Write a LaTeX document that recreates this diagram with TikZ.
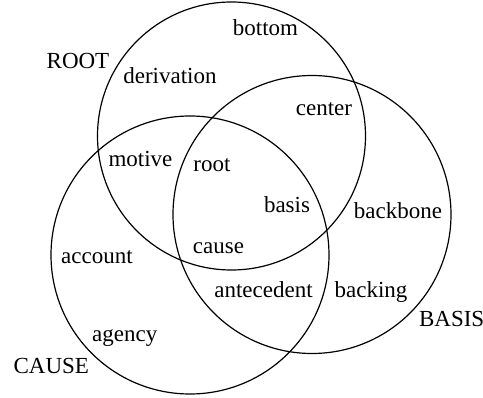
\documentclass[tikz,border=0pt]{standalone}
\usepackage{fontspec}
\setmainfont{Liberation Serif}
\begin{document}
\begin{tikzpicture}[x=1pt,y=-1pt,
  setc/.style={circle,draw,line width=1.2pt,minimum size=#1,inner sep=0pt},
  lbl/.style={anchor=base,inner sep=0pt,font=\fontsize{23}{27}\selectfont}]
\useasboundingbox (0,0) rectangle (483,398);
\node[setc=268pt] (croot) at (231.5,136) {};
\node[setc=278pt] (ccause) at (190,255) {};
\node[setc=278pt] (cbasis) at (312,214.5) {};
\node[lbl] (tROOT) at (78,69) {ROOT};
\node[lbl] (tCAUSE) at (51.3,374) {CAUSE};
\node[lbl] (tBASIS) at (451.7,326.7) {BASIS};
\node[lbl] (tbottom) at (265.5,36) {bottom};
\node[lbl] (tderivation) at (170,83.3) {derivation};
\node[lbl] (tcenter) at (324,115.7) {center};
\node[lbl] (tmotive) at (140.5,166.7) {motive};
\node[lbl] (troot) at (212,172) {root};
\node[lbl] (tbasis) at (287,212.3) {basis};
\node[lbl] (tbackbone) at (398,219) {backbone};
\node[lbl] (tcause) at (218.5,254) {cause};
\node[lbl] (taccount) at (97,264) {account};
\node[lbl] (tantecedent) at (263.5,297.7) {antecedent};
\node[lbl] (tbacking) at (371,297.7) {backing};
\node[lbl] (tagency) at (124.7,341.7) {agency};
\end{tikzpicture}
\end{document}
